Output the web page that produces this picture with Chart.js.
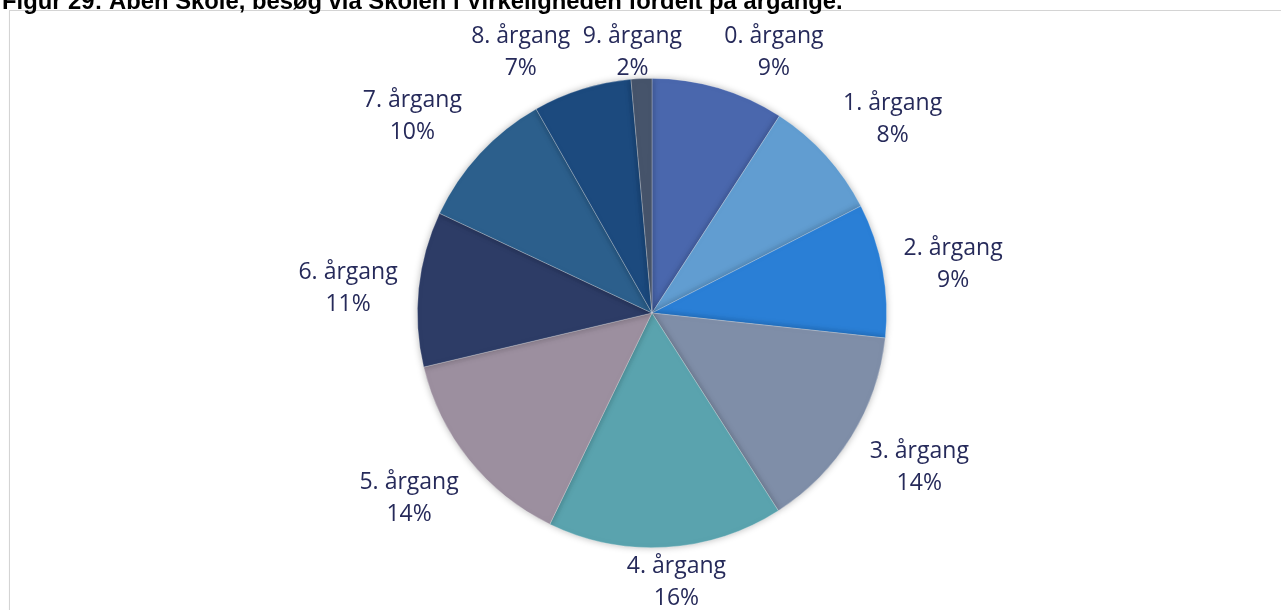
<!DOCTYPE html>
<html>
<head>
<meta charset="utf-8">
<script src="https://cdn.jsdelivr.net/npm/chart.js@4.4.1/dist/chart.umd.min.js"></script>
<style>
  html, body { margin: 0; padding: 0; background: #ffffff; overflow: hidden; }
  body { width: 1281px; height: 610px; position: relative; }
  #title { position: absolute; left: 2px; top: -11px; z-index: 3; font-family: "Liberation Sans", Arial, sans-serif; font-weight: bold; font-size: 23.8px; line-height: 24px; color: #000; white-space: nowrap; }
  #frame { position: absolute; left: 9px; top: 10px; width: 1280px; height: 700px; border: 1px solid #d4d4d4; box-shadow: 0 1px 1px rgba(0,0,0,0.08); }
  #wrap { position: absolute; left: 0; top: 0; width: 1281px; height: 610px; z-index: 2; }
</style>
</head>
<body>
<div id="title">Figur 29: Åben Skole, besøg via Skolen i Virkeligheden fordelt på årgange.</div>
<div id="frame"></div>
<div id="wrap"><canvas id="c" width="1281" height="610"></canvas></div>
<script>
// ---- data ----
const categories = ['0. årgang','1. årgang','2. årgang','3. årgang','4. årgang','5. årgang','6. årgang','7. årgang','8. årgang','9. årgang'];
const values = [9.14, 8.33, 9.23, 14.25, 16.22, 14.13, 10.68, 9.80, 6.79, 1.43];
const shareLabels = ['9%','8%','9%','14%','16%','14%','11%','10%','7%','2%'];
const sliceColors = ['#4a67ad','#619dd1','#2a7fd6','#7f8ea8','#5aa3ae','#9c8f9f','#2d3c66','#2c5f8c','#1c4a7e','#46546b'];

// ---- style / layout for labels ----
const labelStyle = { font: '23px "Open Sans", "Noto Sans", sans-serif', color: '#262a5a', lineHeight: 32, gap: 12 };
const labelNudge = [[24,8],[8,4],[9,8],[8,-7],[4,-9],[-1,-1],[-9,7],[-9,3],[-28,7],[-4,18]];

const shadowPlugin = {
  id: 'pieShadow',
  beforeDatasetDraw(chart) {
    const ctx = chart.ctx;
    ctx.save();
    ctx.shadowColor = 'rgba(0,0,0,0.28)';
    ctx.shadowBlur = 7;
    ctx.shadowOffsetX = 0;
    ctx.shadowOffsetY = 0;
  },
  afterDatasetDraw(chart) { chart.ctx.restore(); }
};

const outLabelPlugin = {
  id: 'outLabels',
  afterDatasetsDraw(chart) {
    const ctx = chart.ctx;
    const meta = chart.getDatasetMeta(0);
    ctx.save();
    ctx.font = labelStyle.font;
    ctx.fillStyle = labelStyle.color;
    ctx.textAlign = 'center';
    ctx.textBaseline = 'middle';
    meta.data.forEach((arc, i) => {
      const mid = (arc.startAngle + arc.endAngle) / 2;
      const ux = Math.cos(mid), uy = Math.sin(mid);
      const R = arc.outerRadius + labelStyle.gap;
      const px = arc.x + R * ux, py = arc.y + R * uy;
      const l1 = categories[i], l2 = shareLabels[i];
      const w = Math.max(ctx.measureText(l1).width, ctx.measureText(l2).width);
      const h = labelStyle.lineHeight * 2;
      const cl = v => Math.max(-1, Math.min(1, v));
      let cx = px + cl(2 * ux) * w / 2;
      let cy = py + cl(2 * uy) * h / 2;
      cx += labelNudge[i][0];
      cy += labelNudge[i][1];
      ctx.fillText(l1, cx, cy - labelStyle.lineHeight / 2);
      ctx.fillText(l2, cx, cy + labelStyle.lineHeight / 2);
    });
    ctx.restore();
  }
};

new Chart(document.getElementById('c'), {
  type: 'pie',
  data: {
    labels: categories,
    datasets: [{
      data: values,
      backgroundColor: sliceColors,
      borderColor: 'rgba(255,255,255,0.35)',
      borderWidth: 0.75
    }]
  },
  options: {
    responsive: false,
    animation: false,
    layout: { padding: { left: 417, right: 394, top: 78, bottom: 62 } },
    plugins: {
      legend: { display: false },
      tooltip: { enabled: false },
      title: { display: false }
    }
  },
  plugins: [shadowPlugin, outLabelPlugin]
});
</script>
</body>
</html>
